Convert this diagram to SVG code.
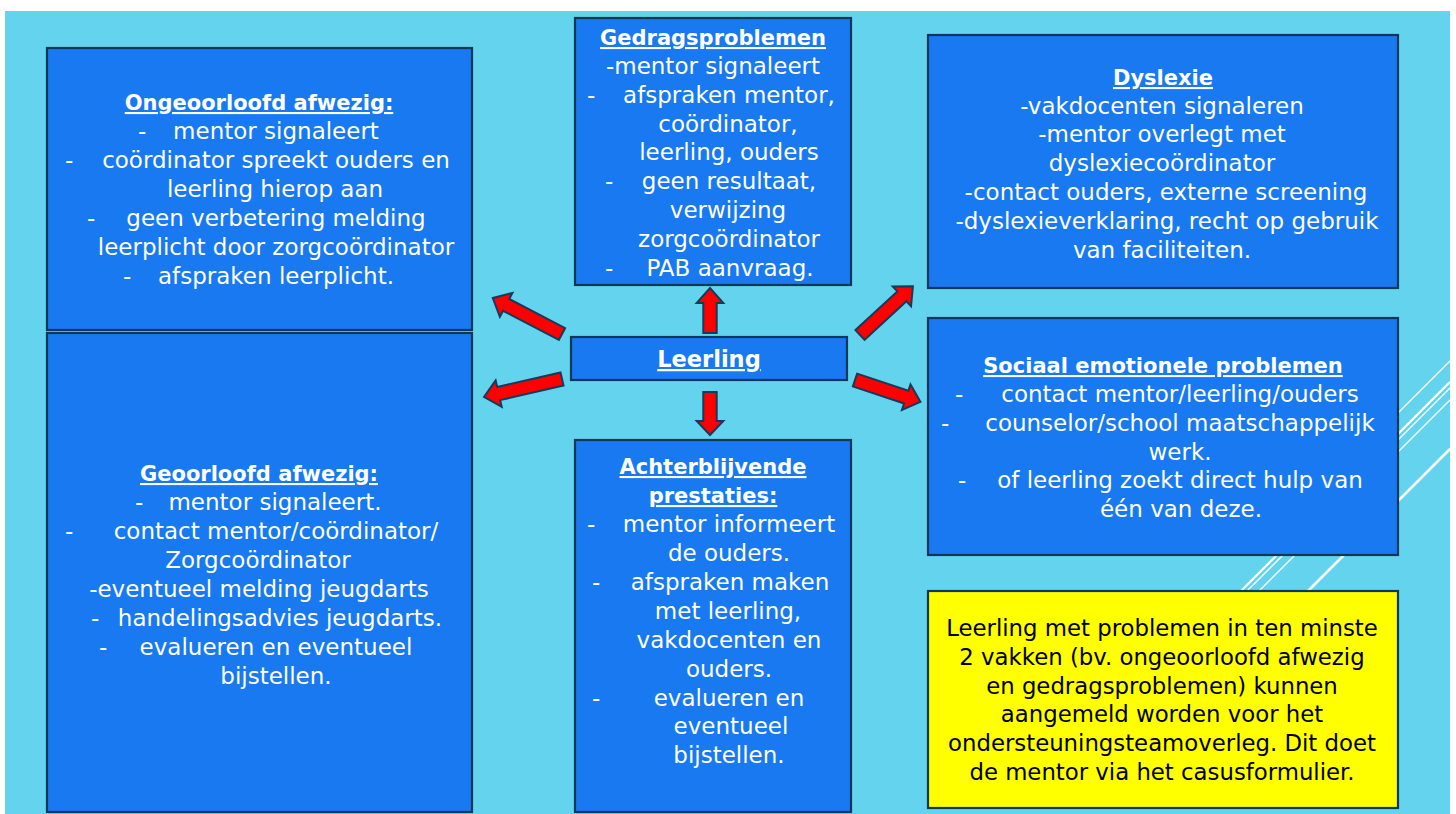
<svg xmlns="http://www.w3.org/2000/svg" width="1456" height="814" viewBox="0 0 1456 814">
<style>
.box{fill:#1879F0;stroke:#10375a;stroke-width:2.2}
.yel{fill:#FFFF00;stroke:#10375a;stroke-width:2.2}
.t{font-family:"DejaVu Sans","Liberation Sans",sans-serif;font-size:23px;fill:#ffffff;text-anchor:middle}
.d{font-family:"DejaVu Sans","Liberation Sans",sans-serif;font-size:23px;fill:#ffffff}
.h{font-family:"DejaVu Sans","Liberation Sans",sans-serif;font-size:21px;font-weight:bold;fill:#ffffff;text-anchor:middle;text-decoration:underline}
.k{font-family:"DejaVu Sans","Liberation Sans",sans-serif;font-size:22.8px;fill:#000000;text-anchor:middle}
.arr{fill:#FF0000;stroke:#153a5a;stroke-width:2;stroke-linejoin:miter}
.st{stroke:#ffffff;fill:none}
</style>
<rect x="0" y="0" width="1456" height="814" fill="#ffffff"/>
<rect x="5" y="11" width="1445" height="803" fill="#64D4EE"/>
<g id="stripes">
<line class="st" x1="1398" y1="413" x2="1450" y2="361" stroke-width="1.3"/>
<line class="st" x1="1240" y1="592" x2="1450" y2="382" stroke-width="2.2"/>
<line class="st" x1="1246" y1="592" x2="1450" y2="388" stroke-width="1.3"/>
<line class="st" x1="1258" y1="592" x2="1450" y2="400" stroke-width="1.3"/>
<line class="st" x1="1307" y1="592" x2="1450" y2="449" stroke-width="2.6"/>
</g>
<g id="connectors">
<polygon class="arr" transform="translate(562,334) rotate(207.5)" points="0,-6.7 63,-6.7 63,-13.5 78,0 63,13.5 63,6.7 0,6.7"/>
<polygon class="arr" transform="translate(562,379) rotate(167)" points="0,-6.7 65,-6.7 65,-13.5 80,0 65,13.5 65,6.7 0,6.7"/>
<polygon class="arr" transform="translate(860,335) rotate(-42.7)" points="0,-6.7 57,-6.7 57,-13.5 72,0 57,13.5 57,6.7 0,6.7"/>
<polygon class="arr" transform="translate(855,380) rotate(18.5)" points="0,-6.7 54,-6.7 54,-13.5 69,0 54,13.5 54,6.7 0,6.7"/>
<polygon class="arr" transform="translate(710,333) rotate(-90)" points="0,-6.7 30,-6.7 30,-13.3 45,0 30,13.3 30,6.7 0,6.7"/>
<polygon class="arr" transform="translate(710,392) rotate(90)" points="0,-6.7 29,-6.7 29,-13.3 43,0 29,13.3 29,6.7 0,6.7"/>
</g>
<g id="ongeoorloofd">
<rect class="box" x="47" y="48" width="425" height="282"/>
<text class="h" x="259" y="110">Ongeoorloofd afwezig:</text>
<text class="d" x="138" y="139">-</text><text class="t" x="276" y="139">mentor signaleert</text>
<text class="d" x="65" y="168">-</text><text class="t" x="276" y="168">coördinator spreekt ouders en</text>
<text class="t" x="275" y="197">leerling hierop aan</text>
<text class="d" x="87" y="226">-</text><text class="t" x="276" y="226">geen verbetering melding</text>
<text class="t" x="276" y="255">leerplicht door zorgcoördinator</text>
<text class="d" x="123" y="284">-</text><text class="t" x="276" y="284">afspraken leerplicht.</text>
</g>
<g id="geoorloofd">
<rect class="box" x="47" y="333" width="425" height="479"/>
<text class="h" x="259" y="481">Geoorloofd afwezig:</text>
<text class="d" x="135" y="510">-</text><text class="t" x="275" y="510">mentor signaleert.</text>
<text class="d" x="65" y="539">-</text><text class="t" x="276" y="539">contact mentor/coördinator/</text>
<text class="t" x="258" y="568">Zorgcoördinator</text>
<text class="t" x="259" y="597">-eventueel melding jeugdarts</text>
<text class="d" x="91" y="626">-</text><text class="t" x="280" y="626">handelingsadvies jeugdarts.</text>
<text class="d" x="99" y="655">-</text><text class="t" x="276" y="655">evalueren en eventueel</text>
<text class="t" x="276" y="684">bijstellen.</text>
</g>
<g id="gedragsproblemen">
<rect class="box" x="575" y="18" width="276" height="267"/>
<text class="h" x="713" y="45">Gedragsproblemen</text>
<text class="t" x="713" y="74">-mentor signaleert</text>
<text class="d" x="587" y="103">-</text><text class="t" x="729" y="103">afspraken mentor,</text>
<text class="t" x="728" y="132">coördinator,</text>
<text class="t" x="729" y="160">leerling, ouders</text>
<text class="d" x="605" y="189">-</text><text class="t" x="729" y="189">geen resultaat,</text>
<text class="t" x="728" y="218">verwijzing</text>
<text class="t" x="729" y="247">zorgcoördinator</text>
<text class="d" x="605" y="276">-</text><text class="t" x="730" y="276">PAB aanvraag.</text>
</g>
<g id="leerling">
<rect class="box" x="571" y="337" width="276" height="43"/>
<text class="h" x="709" y="367" style="font-size:22.5px">Leerling</text>
</g>
<g id="achterblijvende">
<rect class="box" x="575" y="440" width="276" height="372"/>
<text class="h" x="713" y="474">Achterblijvende</text>
<text class="h" x="713" y="503">prestaties:</text>
<text class="d" x="587" y="532">-</text><text class="t" x="729" y="532">mentor informeert</text>
<text class="t" x="729" y="561">de ouders.</text>
<text class="d" x="592" y="590">-</text><text class="t" x="730" y="590">afspraken maken</text>
<text class="t" x="728" y="619">met leerling,</text>
<text class="t" x="729" y="648">vakdocenten en</text>
<text class="t" x="729" y="677">ouders.</text>
<text class="d" x="592" y="706">-</text><text class="t" x="729" y="706">evalueren en</text>
<text class="t" x="731" y="734">eventueel</text>
<text class="t" x="729" y="763">bijstellen.</text>
</g>
<g id="dyslexie">
<rect class="box" x="928" y="35" width="470" height="253"/>
<text class="h" x="1163" y="85">Dyslexie</text>
<text class="t" x="1162" y="114">-vakdocenten signaleren</text>
<text class="t" x="1162" y="142">-mentor overlegt met</text>
<text class="t" x="1162" y="171">dyslexiecoördinator</text>
<text class="t" x="1166" y="200">-contact ouders, externe screening</text>
<text class="t" x="1167" y="229">-dyslexieverklaring, recht op gebruik</text>
<text class="t" x="1162" y="258">van faciliteiten.</text>
</g>
<g id="sociaal">
<rect class="box" x="928" y="318" width="470" height="237"/>
<text class="h" x="1163" y="373">Sociaal emotionele problemen</text>
<text class="d" x="955" y="402">-</text><text class="t" x="1180" y="402">contact mentor/leerling/ouders</text>
<text class="d" x="941" y="431">-</text><text class="t" x="1180" y="431">counselor/school maatschappelijk</text>
<text class="t" x="1180" y="460">werk.</text>
<text class="d" x="958" y="488">-</text><text class="t" x="1180" y="488">of leerling zoekt direct hulp van</text>
<text class="t" x="1181" y="517">één van deze.</text>
</g>
<g id="opmerking">
<rect class="yel" x="928" y="591" width="470" height="217"/>
<text class="k" x="1162" y="636">Leerling met problemen in ten minste</text>
<text class="k" x="1162" y="665">2 vakken (bv. ongeoorloofd afwezig</text>
<text class="k" x="1162" y="694">en gedragsproblemen) kunnen</text>
<text class="k" x="1162" y="722">aangemeld worden voor het</text>
<text class="k" x="1162" y="751">ondersteuningsteamoverleg. Dit doet</text>
<text class="k" x="1162" y="780">de mentor via het casusformulier.</text>
</g>
</svg>
